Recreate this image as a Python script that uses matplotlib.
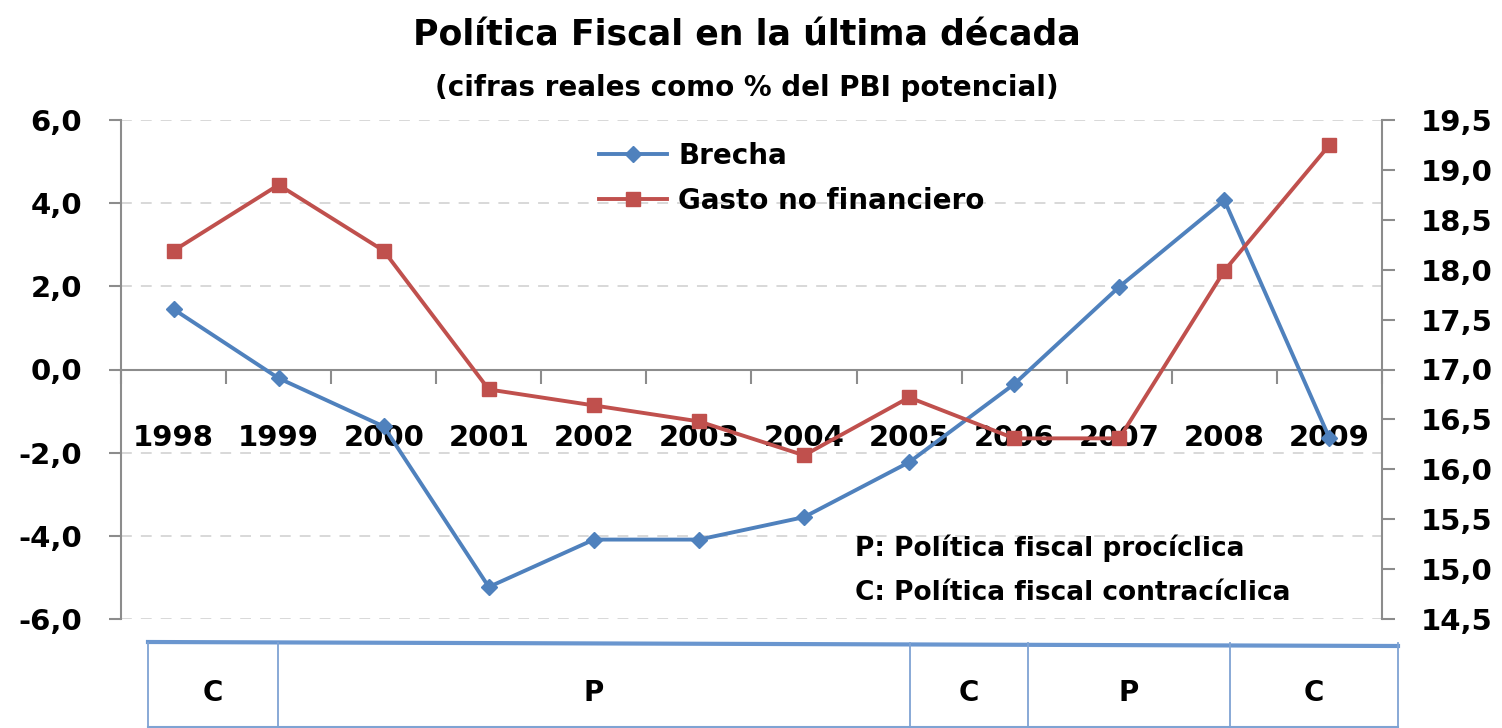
import matplotlib
matplotlib.use('Agg')
import matplotlib.pyplot as plt
from matplotlib.lines import Line2D
import numpy as np

plt.rcParams['font.family'] = ['DejaVu Sans']
plt.rcParams['font.weight'] = 'bold'

# data
years = ['1998', '1999', '2000', '2001', '2002', '2003',
         '2004', '2005', '2006', '2007', '2008', '2009']
brecha = [1.45, -0.21, -1.37, -5.23, -4.09, -4.09, -3.55, -2.23, -0.35, 1.99, 4.07, -1.65]
gasto = [18.19, 18.85, 18.19, 16.80, 16.64, 16.48, 16.14, 16.72, 16.31, 16.31, 17.99, 19.25]
left_ticks = [6, 4, 2, 0, -2, -4, -6]
right_ticks = [19.5, 19.0, 18.5, 18.0, 17.5, 17.0, 16.5, 16.0, 15.5, 15.0, 14.5]
policy = ['C', 'P', 'C', 'P', 'C']

blue = '#4F81BD'
red = '#C0504D'
axis_grey = '#8c8c8c'

W, H = 1502, 728
fig = plt.figure(figsize=(W / 100, H / 100), dpi=100)

def fx(px):
    return px / W

def fy(py):
    return 1 - py / H

ax = fig.add_axes([fx(121), fy(619), fx(1382 - 121), (619 - 120) / H])
x = np.arange(len(years))
ax.set_xlim(-0.5, len(years) - 0.5)
ax.set_ylim(-6, 6)

for v in left_ticks:
    if v != 0:
        ax.axhline(v, color='#d6d6d6', lw=1.3, ls=(0, (6, 5)), zorder=0)

ax.plot(x, brecha, color=blue, lw=2.8, marker='D', ms=8.5, label='Brecha', zorder=3)

ax.spines['top'].set_visible(False)
ax.spines['right'].set_visible(False)
ax.spines['bottom'].set_position(('data', 0))
ax.spines['bottom'].set_color(axis_grey)
ax.spines['bottom'].set_linewidth(1.5)
ax.spines['left'].set_color(axis_grey)
ax.spines['left'].set_linewidth(1.5)

ax.set_yticks(left_ticks)
ax.set_yticklabels([f'{v:.1f}'.replace('.', ',') for v in left_ticks])
ax.tick_params(axis='y', length=9, width=1.5, color=axis_grey, pad=19, labelsize=21)

# category axis: tick marks between categories, labels centred
ax.set_xticks(np.arange(len(years) + 1) - 0.5)
ax.set_xticklabels([])
ax.set_xticks(x, minor=True)
ax.set_xticklabels(years, minor=True)
ax.tick_params(axis='x', which='major', direction='out', length=10, width=1.5, color=axis_grey)
ax.tick_params(axis='x', which='minor', length=0, pad=39, labelsize=21)

ax2 = ax.twinx()
ax2.set_ylim(14.5, 19.5)
ax2.plot(x, gasto, color=red, lw=2.8, marker='s', ms=10, label='Gasto no financiero', zorder=3)
ax2.set_yticks(right_ticks)
ax2.set_yticklabels([f'{v:.1f}'.replace('.', ',') for v in right_ticks])
ax2.tick_params(axis='y', length=9, width=1.5, color=axis_grey, pad=19, labelsize=21)
for s in ['top', 'bottom', 'left']:
    ax2.spines[s].set_visible(False)
ax2.spines['right'].set_color(axis_grey)
ax2.spines['right'].set_linewidth(1.5)

h1, l1 = ax.get_legend_handles_labels()
h2, l2 = ax2.get_legend_handles_labels()
fig.legend(h1 + h2, l1 + l2, loc='upper left', bbox_to_anchor=(fx(599), fy(142)),
           frameon=False, fontsize=20, handlelength=2.45, handletextpad=0.4,
           labelspacing=0.62, borderpad=0, borderaxespad=0)

fig.text(fx(747), fy(36), 'Política Fiscal en la última década', ha='center', va='center',
         fontsize=25, fontweight='bold')
fig.text(fx(747), fy(88), '(cifras reales como % del PBI potencial)', ha='center', va='center',
         fontsize=20, fontweight='bold')

fig.text(fx(855), fy(548), 'P: Política fiscal procíclica', ha='left', va='center', fontsize=19)
fig.text(fx(855), fy(593), 'C: Política fiscal contracíclica', ha='left', va='center', fontsize=19)

# policy strip below the chart
bounds = [148, 278, 910, 1028, 1230, 1398]
line_c = '#7fa3d3'
fig.add_artist(Line2D([fx(148), fx(1398)], [fy(642), fy(646)], color='#6a96cf', lw=3))
fig.add_artist(Line2D([fx(148), fx(1398)], [fy(727), fy(727)], color=line_c, lw=1.5))
for b in bounds:
    fig.add_artist(Line2D([fx(b), fx(b)], [fy(643), fy(728)], color=line_c, lw=1.3))
for i, lab in enumerate(policy):
    cx = (bounds[i] + bounds[i + 1]) / 2
    fig.text(fx(cx), fy(693), lab, ha='center', va='center', fontsize=20)

fig.savefig('out.png', dpi=100)
